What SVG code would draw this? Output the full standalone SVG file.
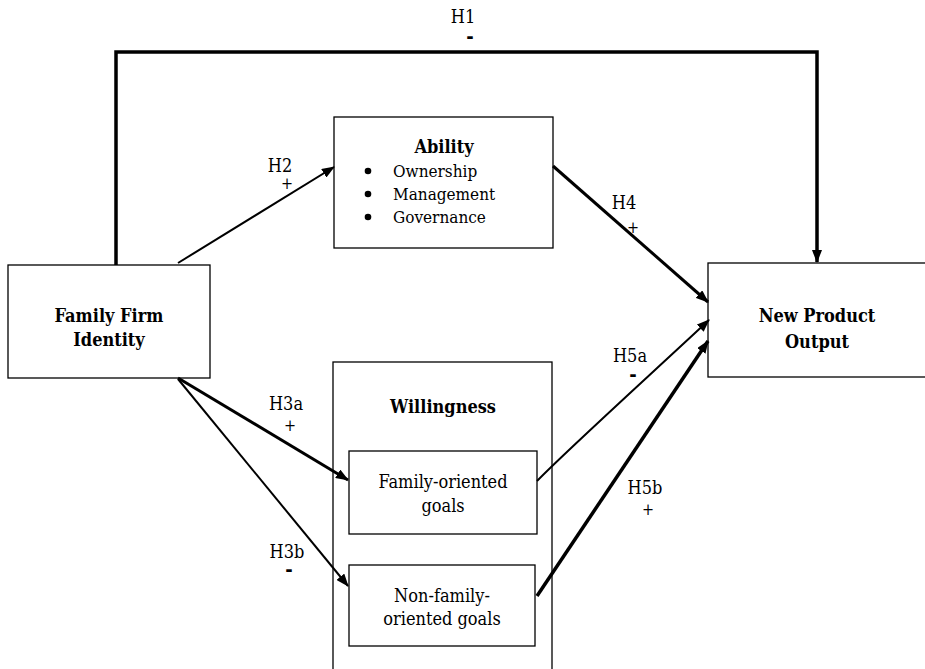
<svg xmlns="http://www.w3.org/2000/svg" width="925" height="669" viewBox="0 0 925 669">
  <style>
    text { font-family: "DejaVu Serif", "Liberation Serif", serif; font-stretch: condensed; fill: #000; }
    .box { fill: #fff; stroke: #000; stroke-width: 1.3; }
    .title { font-size: 18px; font-weight: bold; text-anchor: middle; }
    .body { font-size: 18px; text-anchor: middle; }
    .item { font-size: 17px; }
    .lbl { font-size: 18px; text-anchor: middle; }
    .plus { font-size: 16px; text-anchor: middle; }
    .minus { font-size: 20px; font-weight: bold; text-anchor: middle; }
    .edge { fill: none; stroke: #000; }
    .thin { stroke-width: 2; }
    .thick { stroke-width: 3; }
    .heavy { stroke-width: 3.5; }
  </style>
  <defs>
    <marker id="arrow" viewBox="0 0 13 10" refX="12" refY="5" markerWidth="13" markerHeight="10" markerUnits="userSpaceOnUse" orient="auto">
      <path d="M0,0 L13,5 L0,10 z" fill="#000"/>
    </marker>
  </defs>

  <g id="family-firm-identity">
    <rect class="box" x="8" y="265" width="202" height="113"/>
    <text class="title" x="109" y="322">Family Firm</text>
    <text class="title" x="109" y="346">Identity</text>
  </g>

  <g id="ability">
    <rect class="box" x="334" y="117" width="219" height="131"/>
    <text class="title" x="444" y="153">Ability</text>
    <circle cx="368" cy="171" r="3.3" fill="#000"/>
    <circle cx="368" cy="194" r="3.3" fill="#000"/>
    <circle cx="368" cy="217" r="3.3" fill="#000"/>
    <text class="item" x="393" y="177">Ownership</text>
    <text class="item" x="393" y="200">Management</text>
    <text class="item" x="393" y="223">Governance</text>
  </g>

  <g id="new-product-output">
    <rect class="box" x="708" y="263" width="230" height="114"/>
    <text class="title" x="817" y="322">New Product</text>
    <text class="title" x="817" y="348">Output</text>
  </g>

  <g id="willingness">
    <rect class="box" x="333" y="362" width="219" height="320"/>
    <text class="title" x="443" y="413">Willingness</text>
  </g>

  <g id="family-oriented-goals">
    <rect class="box" x="349" y="451" width="188" height="83"/>
    <text class="body" x="443" y="488">Family-oriented</text>
    <text class="body" x="443" y="512">goals</text>
  </g>

  <g id="non-family-oriented-goals">
    <rect class="box" x="349" y="565" width="186" height="81"/>
    <text class="body" x="442" y="602">Non-family-</text>
    <text class="body" x="442" y="625">oriented goals</text>
  </g>

  <g id="connectors">
    <path id="h1" class="edge heavy" d="M116,265 L116,52 L817,52 L817,262" marker-end="url(#arrow)"/>
    <line id="h2" class="edge thin" x1="178" y1="263" x2="334" y2="167" marker-end="url(#arrow)"/>
    <line id="h4" class="edge thick" x1="553" y1="166" x2="708" y2="302" marker-end="url(#arrow)"/>
    <line id="h3a" class="edge thick" x1="178" y1="378" x2="348" y2="480" marker-end="url(#arrow)"/>
    <line id="h3b" class="edge thin" x1="178" y1="379" x2="348" y2="586" marker-end="url(#arrow)"/>
    <path id="h5a" class="edge thin" d="M537,481 C565,452 650,375 709,320" marker-end="url(#arrow)"/>
    <line id="h5b" class="edge heavy" x1="537" y1="596" x2="708" y2="341" marker-end="url(#arrow)"/>

    <text class="lbl" x="463" y="23">H1</text>
    <text class="minus" x="470" y="43">-</text>
    <text class="lbl" x="280" y="172">H2</text>
    <text class="plus" x="287" y="189">+</text>
    <text class="lbl" x="624" y="209">H4</text>
    <text class="plus" x="633" y="233">+</text>
    <text class="lbl" x="286" y="410">H3a</text>
    <text class="plus" x="290" y="431">+</text>
    <text class="lbl" x="287" y="558">H3b</text>
    <text class="minus" x="289" y="576">-</text>
    <text class="lbl" x="630" y="362">H5a</text>
    <text class="minus" x="633" y="381">-</text>
    <text class="lbl" x="645" y="494">H5b</text>
    <text class="plus" x="648" y="515">+</text>
  </g>
</svg>
